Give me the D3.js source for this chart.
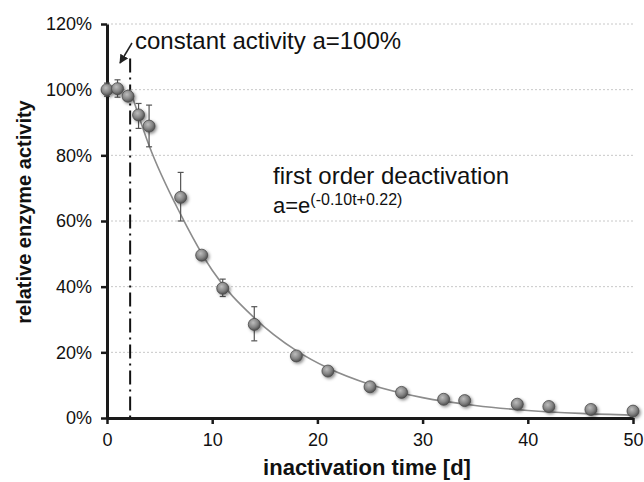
<!DOCTYPE html>
<html>
<head>
<meta charset="utf-8">
<script src="https://cdn.jsdelivr.net/npm/d3@7"></script>
<style>
  body { margin: 0; background: #fff; }
  svg { display: block; font-family: "Liberation Sans", Arial, Helvetica, sans-serif; }
</style>
</head>
<body>
<svg id="chart"></svg>
<script>
// DATA
const days = [0, 1, 2, 3, 4, 7, 9, 11, 14, 18, 21, 25, 28, 32, 34, 39, 42, 46, 50];
const activity = [100, 100.3, 98, 92.3, 88.9, 67.2, 49.6, 39.5, 28.5, 18.9, 14.3, 9.5, 7.8, 5.7, 5.3, 4.2, 3.5, 2.6, 2.1];
const errLow = [98, 97.7, 97, 88.2, 82.6, 60, 48.6, 37, 23.5, 18.2, 13.6, 8.8, 7.1, 5, 4.6, 3.6, 2.9, 2, 1.5];
const errHigh = [102, 103, 99, 95.8, 95.3, 74.8, 50.6, 42.3, 33.9, 19.6, 15, 10.2, 8.5, 6.4, 6, 4.8, 4.1, 3.2, 2.7];

// fitted curve
const fitDays = [2.2, 4, 7, 10, 14, 18, 21, 25, 30, 35, 40, 45, 50];
const fitActivity = [100, 83, 62, 45, 30.5, 20.5, 15.2, 10.2, 6.2, 3.8, 2.3, 1.4, 0.85];

const constantDay = 2.2;
const xTicks = [0, 10, 20, 30, 40, 50];
const yTicks = [0, 20, 40, 60, 80, 100, 120];

const width = 644;
const height = 482;
const margin = { top: 24, right: 11, bottom: 64, left: 107 };

const svg = d3.select("#chart").attr("width", width).attr("height", height);

const x = d3.scaleLinear().domain([0, 50]).range([margin.left, width - margin.right]);
const y = d3.scaleLinear().domain([0, 120]).range([height - margin.bottom, margin.top]);

// defs: sphere gradient, shadow, arrow
const defs = svg.append("defs");
const grad = defs.append("radialGradient").attr("id", "ball")
  .attr("cx", "40%").attr("cy", "35%").attr("r", "65%");
grad.append("stop").attr("offset", "0%").attr("stop-color", "#bdbdbd");
grad.append("stop").attr("offset", "60%").attr("stop-color", "#858585");
grad.append("stop").attr("offset", "100%").attr("stop-color", "#505050");

const shadow = defs.append("filter").attr("id", "shadow")
  .attr("x", "-60%").attr("y", "-60%").attr("width", "220%").attr("height", "220%");
shadow.append("feDropShadow").attr("dx", 1.5).attr("dy", 1.5)
  .attr("stdDeviation", 1.5).attr("flood-color", "#000").attr("flood-opacity", 0.45);

defs.append("marker").attr("id", "arrow")
  .attr("viewBox", "0 0 10 10").attr("refX", 9).attr("refY", 5)
  .attr("markerWidth", 6).attr("markerHeight", 6).attr("orient", "auto")
  .append("path").attr("d", "M0,0 L10,5 L0,10 z").attr("fill", "#222");

// gridlines
svg.append("g")
  .selectAll("line")
  .data(yTicks.filter(d => d > 0))
  .join("line")
  .attr("x1", x(0)).attr("x2", x(50))
  .attr("y1", d => y(d)).attr("y2", d => y(d))
  .attr("stroke", "#c8c8c8")
  .attr("stroke-width", 1)
  .attr("stroke-dasharray", "2,2");

// constant activity boundary (dash-dot)
svg.append("line")
  .attr("x1", x(constantDay)).attr("x2", x(constantDay))
  .attr("y1", y(109.5)).attr("y2", y(0))
  .attr("stroke", "#111")
  .attr("stroke-width", 2)
  .attr("stroke-dasharray", "14,5,2,5");

// fitted curve
svg.append("path")
  .datum(fitDays.map((d, i) => [d, fitActivity[i]]))
  .attr("fill", "none")
  .attr("stroke", "#8c8c8c")
  .attr("stroke-width", 1.6)
  .attr("d", d3.line().x(d => x(d[0])).y(d => y(d[1])).curve(d3.curveMonotoneX));

// axes
const xAxis = svg.append("g")
  .attr("transform", `translate(0,${y(0)})`)
  .call(d3.axisBottom(x).tickValues(xTicks).tickSize(6).tickPadding(9).tickSizeOuter(0));
const yAxis = svg.append("g")
  .attr("transform", `translate(${x(0)},0)`)
  .call(d3.axisLeft(y).tickValues(yTicks).tickFormat(d => d + "%").tickSize(6).tickPadding(9).tickSizeOuter(0));

[xAxis, yAxis].forEach(g => {
  g.select(".domain").attr("stroke", "#1a1a1a").attr("stroke-width", 3);
  g.selectAll(".tick line").attr("stroke", "#1a1a1a").attr("stroke-width", 2.5);
  g.selectAll(".tick text")
    .attr("fill", "#111")
    .attr("font-size", 18)
    .attr("font-family", "Liberation Sans, Arial, sans-serif");
});

// error bars
const bars = svg.append("g").attr("stroke", "#555").attr("stroke-width", 1.2);
days.forEach((d, i) => {
  bars.append("line")
    .attr("x1", x(d)).attr("x2", x(d))
    .attr("y1", y(errLow[i])).attr("y2", y(errHigh[i]));
  [errLow[i], errHigh[i]].forEach(v => {
    bars.append("line")
      .attr("x1", x(d) - 3).attr("x2", x(d) + 3)
      .attr("y1", y(v)).attr("y2", y(v));
  });
});

// data points
svg.append("g")
  .selectAll("circle")
  .data(days.map((d, i) => [d, activity[i]]))
  .join("circle")
  .attr("cx", d => x(d[0]))
  .attr("cy", d => y(d[1]))
  .attr("r", 6)
  .attr("fill", "url(#ball)")
  .attr("stroke", "#4a4a4a")
  .attr("stroke-width", 0.8)
  .attr("filter", "url(#shadow)");

// annotations
svg.append("text")
  .attr("x", 135).attr("y", 49)
  .attr("font-size", 24)
  .attr("fill", "#111")
  .text("constant activity a=100%");

svg.append("line")
  .attr("x1", 132).attr("y1", 43)
  .attr("x2", 120).attr("y2", 63)
  .attr("stroke", "#222").attr("stroke-width", 1.5)
  .attr("marker-end", "url(#arrow)");

svg.append("text")
  .attr("x", 273).attr("y", 184)
  .attr("font-size", 24)
  .attr("fill", "#111")
  .text("first order deactivation");

const formula = svg.append("text")
  .attr("x", 273).attr("y", 213)
  .attr("font-size", 22)
  .attr("fill", "#111");
formula.append("tspan").text("a=e");
formula.append("tspan").attr("font-size", 16).attr("dy", -8).text("(-0.10t+0.22)");

// axis titles
svg.append("text")
  .attr("x", 367).attr("y", 475)
  .attr("text-anchor", "middle")
  .attr("font-size", 22).attr("font-weight", "bold")
  .attr("fill", "#111")
  .text("inactivation time [d]");

svg.append("text")
  .attr("transform", "translate(31,212) rotate(-90)")
  .attr("text-anchor", "middle")
  .attr("font-size", 20).attr("font-weight", "bold")
  .attr("fill", "#111")
  .text("relative enzyme activity");
</script>
</body>
</html>
